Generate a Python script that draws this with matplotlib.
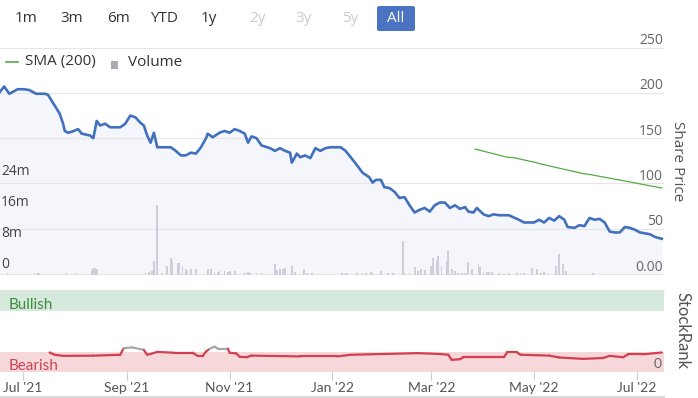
import numpy as np
import pandas as pd
import matplotlib
matplotlib.use("Agg")
import matplotlib.pyplot as plt
import matplotlib.dates as mdates
from matplotlib.lines import Line2D
from matplotlib.patches import FancyBboxPatch, Rectangle

# share price
price_dates = [
    "2021-06-17", "2021-06-20", "2021-06-23", "2021-06-28", "2021-07-02", "2021-07-05",
    "2021-07-07", "2021-07-09", "2021-07-14", "2021-07-16", "2021-07-20", "2021-07-23",
    "2021-07-25", "2021-07-26", "2021-07-28", "2021-07-30", "2021-08-03", "2021-08-05",
    "2021-08-10", "2021-08-12", "2021-08-14", "2021-08-16", "2021-08-19", "2021-08-22",
    "2021-08-28", "2021-08-31", "2021-09-03", "2021-09-06", "2021-09-09", "2021-09-11",
    "2021-09-13", "2021-09-15", "2021-09-17", "2021-09-19", "2021-09-21", "2021-09-27",
    "2021-09-30", "2021-10-03", "2021-10-06", "2021-10-09", "2021-10-12", "2021-10-15",
    "2021-10-18", "2021-10-19", "2021-10-22", "2021-10-26", "2021-10-29", "2021-11-01",
    "2021-11-04", "2021-11-07", "2021-11-10", "2021-11-12", "2021-11-14", "2021-11-17",
    "2021-11-20", "2021-11-25", "2021-11-28", "2021-12-01", "2021-12-04", "2021-12-07",
    "2021-12-08", "2021-12-11", "2021-12-13", "2021-12-16", "2021-12-19", "2021-12-22",
    "2021-12-25", "2021-12-28", "2021-12-31", "2022-01-06", "2022-01-09", "2022-01-12",
    "2022-01-15", "2022-01-19", "2022-01-23", "2022-01-25", "2022-01-27", "2022-01-30",
    "2022-02-01", "2022-02-04", "2022-02-07", "2022-02-10", "2022-02-13", "2022-02-16",
    "2022-02-19", "2022-02-22", "2022-02-25", "2022-02-28", "2022-03-03", "2022-03-06",
    "2022-03-09", "2022-03-12", "2022-03-15", "2022-03-18", "2022-03-21", "2022-03-23",
    "2022-03-26", "2022-03-28", "2022-04-01", "2022-04-04", "2022-04-07", "2022-04-10",
    "2022-04-16", "2022-04-22", "2022-04-25", "2022-05-01", "2022-05-04", "2022-05-07",
    "2022-05-10", "2022-05-13", "2022-05-16", "2022-05-19", "2022-05-21", "2022-05-25",
    "2022-05-28", "2022-05-31", "2022-06-03", "2022-06-06", "2022-06-09", "2022-06-12",
    "2022-06-15", "2022-06-18", "2022-06-21", "2022-06-24", "2022-06-27", "2022-06-30",
    "2022-07-03", "2022-07-09", "2022-07-12", "2022-07-16",
]
price_values = [
    200, 207, 199, 204, 204, 203,
    201, 199, 199, 198, 186, 177,
    166, 158, 156, 157, 160, 155,
    153, 150, 169, 164, 166, 162,
    162, 166, 175, 173, 167, 164,
    153, 145, 156, 140, 140, 140,
    136, 131, 131, 134, 133, 140,
    150, 155, 151, 156, 158, 156,
    160, 158, 155, 145, 152, 150,
    142, 139, 136, 139, 136, 134,
    123, 133, 129, 131, 128, 139,
    136, 139, 140, 140, 136, 129,
    122, 112, 107, 101, 104, 104,
    96, 95, 91, 84, 85, 76,
    68, 71, 73, 69, 76, 79,
    79, 73, 76, 72, 74, 69,
    68, 73, 66, 64, 66, 65,
    65, 60, 57, 57, 60, 57,
    62, 59, 64, 60, 52, 51,
    54, 53, 62, 60, 61, 57,
    47, 46, 46, 52, 51, 49,
    46, 44, 41, 39,
]

sma_dates = ["2022-03-27", "2022-04-15", "2022-04-19", "2022-05-01", "2022-05-11",
             "2022-05-30", "2022-06-03", "2022-06-19", "2022-07-16"]
sma_values = [138, 129, 128.5, 123.5, 119, 111, 110, 104.5, 95]

# volume in millions
vol_dates = [
    "2021-06-22", "2021-07-08", "2021-07-10", "2021-07-11", "2021-07-27", "2021-08-02",
    "2021-08-11", "2021-08-12", "2021-08-13", "2021-08-14", "2021-09-12", "2021-09-14",
    "2021-09-16", "2021-09-17", "2021-09-19", "2021-09-22", "2021-09-25", "2021-09-27",
    "2021-09-28", "2021-10-01", "2021-10-02", "2021-10-04", "2021-10-06", "2021-10-07",
    "2021-10-09", "2021-10-12", "2021-10-19", "2021-10-21", "2021-10-23", "2021-10-25",
    "2021-10-26", "2021-10-29", "2021-10-31", "2021-11-01", "2021-11-04", "2021-11-10",
    "2021-11-12", "2021-11-13", "2021-11-17", "2021-11-20", "2021-11-28", "2021-11-29",
    "2021-12-01", "2021-12-03", "2021-12-04", "2021-12-08", "2021-12-10", "2021-12-15",
    "2021-12-17", "2021-12-20", "2022-01-07", "2022-01-09", "2022-01-10", "2022-01-16",
    "2022-01-19", "2022-01-21", "2022-01-24", "2022-01-25", "2022-01-30", "2022-02-03",
    "2022-02-06", "2022-02-12", "2022-02-13", "2022-02-16", "2022-02-19", "2022-02-21",
    "2022-02-23", "2022-02-25", "2022-03-01", "2022-03-02", "2022-03-04", "2022-03-05",
    "2022-03-07", "2022-03-10", "2022-03-11", "2022-03-13", "2022-03-15", "2022-03-17",
    "2022-03-19", "2022-03-21", "2022-03-23", "2022-03-25", "2022-03-29", "2022-03-30",
    "2022-04-01", "2022-04-03", "2022-04-04", "2022-04-06", "2022-04-10", "2022-04-13",
    "2022-04-16", "2022-04-21", "2022-04-23", "2022-04-25", "2022-04-30", "2022-05-03",
    "2022-05-05", "2022-05-07", "2022-05-09", "2022-05-14", "2022-05-16", "2022-05-18",
    "2022-05-20", "2022-06-05",
]
vol_values = [
    0.3, 0.4, 0.5, 0.5, 0.3, 0.35,
    1.2, 1.7, 1.8, 1.5, 0.5, 0.7,
    0.8, 3.4, 18.1, 0.4, 2.2, 4.3,
    3.4, 3.0, 3.0, 2.2, 1.3, 1.0,
    1.3, 1.3, 1.5, 1.3, 0.7, 0.6,
    0.9, 1.0, 0.6, 1.0, 1.0, 0.5,
    0.6, 0.4, 0.3, 0.3, 2.8, 1.2,
    1.4, 1.5, 1.6, 2.1, 0.7, 1.5,
    0.5, 0.3, 0.3, 0.3, 0.3, 0.3,
    0.4, 0.5, 0.7, 0.4, 1.0, 0.35,
    0.3, 8.6, 0.4, 0.4, 1.9, 1.0,
    1.3, 1.2, 2.2, 4.3, 3.4, 4.7,
    2.2, 3.4, 6.0, 1.3, 0.9, 0.4,
    0.35, 0.35, 3.3, 1.3, 2.6, 2.0,
    0.7, 0.7, 0.6, 0.6, 0.3, 0.25,
    0.3, 0.35, 0.35, 0.4, 1.7, 1.3,
    0.5, 0.6, 0.5, 2.2, 5.2, 2.6,
    0.9, 0.3,
]

# StockRank
rank_dates = [
    "2021-07-17", "2021-07-20", "2021-07-25", "2021-08-12", "2021-08-28", "2021-08-30",
    "2021-09-04", "2021-09-11", "2021-09-13", "2021-09-15", "2021-09-19", "2021-09-29",
    "2021-10-10", "2021-10-13", "2021-10-16", "2021-10-18", "2021-10-20", "2021-10-23",
    "2021-10-25", "2021-10-31", "2021-11-01", "2021-11-05", "2021-11-07", "2021-11-11",
    "2021-11-14", "2021-12-13", "2022-01-04", "2022-01-12", "2022-02-21", "2022-03-06",
    "2022-03-11", "2022-03-13", "2022-03-18", "2022-03-20", "2022-04-13", "2022-04-15",
    "2022-04-21", "2022-04-23", "2022-05-10", "2022-05-16", "2022-05-30", "2022-06-11",
    "2022-06-15", "2022-06-23", "2022-06-26", "2022-07-05", "2022-07-16",
]
rank_values = [
    23.8, 21, 19.7, 19.9, 21, 29,
    30, 27, 21, 22, 24.5, 23.5,
    23.5, 19.7, 19.7, 25, 28, 31,
    28.6, 28.6, 23.5, 22.7, 18.6, 18,
    20, 19, 19, 21, 23, 22,
    21, 14.8, 15.6, 18, 18, 23.8,
    23.8, 21, 20, 17.7, 16, 17,
    19.7, 18, 21.6, 21.6, 23.8,
]

buttons = ["1m", "3m", "6m", "YTD", "1y", "2y", "3y", "5y"]
button_x = [26, 72, 118, 164, 209, 257, 303, 350]
button_off = ["2y", "3y", "5y"]

W, H = 698, 398


def fx(px):
    return px / W


def fy(py):
    return 1 - py / H


fig = plt.figure(figsize=(6.98, 3.98), dpi=100)
sans = ["Open Sans", "DejaVu Sans"]
narrow = ["Lato", "DejaVu Sans"]

ax = fig.add_axes([0, fy(274.5), fx(664), (274.5 - 47) / H])
ax_vol = ax.twinx()
ax_rank = fig.add_axes([0, fy(372), fx(664), (372 - 290) / H], sharex=ax)

pdates = pd.to_datetime(price_dates)

# price pane
ax.fill_between(pdates, price_values, 0, color="#f5f6fb", lw=0)
ax.plot(pdates, price_values, color="#4170bf", lw=1.9, solid_joinstyle="round")
ax.plot(pd.to_datetime(sma_dates), sma_values, color="#55aa44", lw=0.9)
ax.set_ylim(-0.4, 250.6)
ax.set_yticks([0, 50, 100, 150, 200, 250])
ax.set_axisbelow("line")
ax.grid(axis="y", color="#e6e6e6", lw=0.8)
ax.tick_params(left=False, labelleft=False, right=False, bottom=False, labelbottom=False)
for s in ax.spines.values():
    s.set_visible(False)
for v in [0, 50, 100, 150, 200, 250]:
    lab = "0.00" if v == 0 else str(v)
    ax.annotate(lab, xy=(1, v), xycoords=("axes fraction", "data"),
                xytext=(-1, 7), textcoords="offset pixels",
                ha="right", va="center", fontsize=10, color="#666666",
                family=sans, annotation_clip=False)

# volume
ax_vol.bar(pd.to_datetime(vol_dates), vol_values, width=1.1, color="#cdd0d8", lw=0)
ax_vol.set_ylim(0, 59)
ax_vol.tick_params(left=False, labelleft=False, right=False, labelright=False,
                   bottom=False, labelbottom=False)
for s in ax_vol.spines.values():
    s.set_visible(False)
for v, lab in zip([0, 8, 16, 24], ["0", "8m", "16m", "24m"]):
    ax_vol.annotate(lab, xy=(0, v), xycoords=("axes fraction", "data"),
                    xytext=(1, 10), textcoords="offset pixels",
                    ha="left", va="center", fontsize=10, color="#444444",
                    family=sans, annotation_clip=False)

# stockrank pane
ax_rank.axhspan(75, 100, color="#d5e9dc", lw=0)
ax_rank.axhspan(0, 25, color="#f6d8db", lw=0)
ax_rank.set_ylim(0, 100)
rd = pd.to_datetime(rank_dates)
rv = np.array(rank_values)
for i in range(len(rv) - 1):
    c = "#a6a6a6" if (rv[i] > 26 and rv[i + 1] > 26) else "#d2404f"
    ax_rank.plot(rd[i:i + 2], rv[i:i + 2], color=c, lw=1.6, solid_capstyle="round")
for name, s in ax_rank.spines.items():
    s.set_visible(name == "top")
ax_rank.spines["top"].set_color("#e3e3e3")
ax_rank.set_yticks([])
ax_rank.text(9 / 664, 76.8, "Bullish", transform=ax_rank.get_yaxis_transform(),
             fontsize=11, color="#3d8b3d", family=narrow, va="baseline")
ax_rank.text(9 / 664, 2.4, "Bearish", transform=ax_rank.get_yaxis_transform(),
             fontsize=11, color="#cc4456", family=narrow, va="baseline")
ax_rank.text(662 / 664, 4.9, "0", transform=ax_rank.get_yaxis_transform(),
             fontsize=10, color="#666666", family=narrow, va="baseline", ha="right")

ax_rank.set_xlim(pd.Timestamp("2021-06-17 12:00"), pd.Timestamp("2022-07-17 07:00"))
ax_rank.xaxis.set_major_locator(mdates.MonthLocator(bymonth=[1, 3, 5, 7, 9, 11]))
ax_rank.xaxis.set_major_formatter(mdates.DateFormatter("%b '%y"))
ax_rank.tick_params(axis="x", length=5.8, width=0.8, color="#cccccc",
                    labelcolor="#555555", labelsize=10, pad=1.5)
for lab in ax_rank.get_xticklabels():
    lab.set_family(narrow)

# axis titles
fig.text(fx(678), fy(161), "Share Price", rotation=270, ha="center", va="center",
         fontsize=11, color="#555555", family=sans)
fig.text(fx(683), fy(331), "StockRank", rotation=270, ha="center", va="center",
         fontsize=12, color="#555555", family=narrow)

# range buttons
for b, x in zip(buttons, button_x):
    col = "#cccccc" if b in button_off else "#333333"
    fig.text(fx(x), fy(18), b, ha="center", va="center", fontsize=11, color=col, family=sans)
fig.add_artist(FancyBboxPatch((fx(377), fy(31)), fx(38), 25 / H,
                              boxstyle="round,pad=0,rounding_size=0.004",
                              transform=fig.transFigure, color="#4a73c1", lw=0))
fig.text(fx(396), fy(18), "All", ha="center", va="center", fontsize=11,
         color="white", family=sans)

# legend
fig.add_artist(Line2D([fx(6), fx(18)], [fy(62), fy(62)], color="#55aa44", lw=1.2))
fig.text(fx(25), fy(62), "SMA (200)", ha="left", va="center", fontsize=11,
         color="#333333", family=sans)
fig.add_artist(Rectangle((fx(111), fy(68.5)), fx(7), 7 / H, transform=fig.transFigure,
                         color="#a9abb3", lw=0))
fig.text(fx(128), fy(62), "Volume", ha="left", va="center", fontsize=11,
         color="#333333", family=sans)

# scrollbar line at the bottom
fig.add_artist(Line2D([0, fx(664)], [fy(396.5), fy(396.5)], color="#d9d9d9", lw=1.5))

fig.savefig("out.png", dpi=100)
